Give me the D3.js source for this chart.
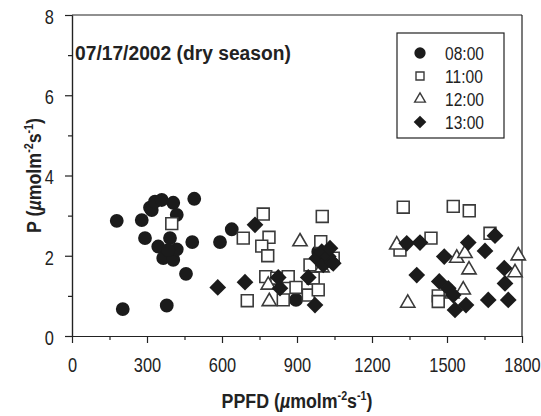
<!DOCTYPE html>
<html lang="en">
<head>
    <meta charset="UTF-8" />
    <title>PPFD vs P scatter</title>
    <script src="https://d3js.org/d3.v7.min.js"></script>
    <style>
        * { margin: 0; padding: 0; box-sizing: border-box; }
        body { background-color: #fff; }
        svg { display: block; }
        .axis text {
            font-family: "Liberation Sans", Arial, sans-serif;
            font-size: 20px;
            fill: #222;
        }
        .axis path, .axis line { stroke: #222; stroke-width: 1.2; }
        .lbl {
            font-family: "Liberation Sans", Arial, sans-serif;
            font-weight: bold;
            fill: #222;
        }
    </style>
</head>
<body>
<svg width="541" height="416"></svg>
<script>
    // Data: [PPFD, P]
    var t0800 = [[179,2.87],[203,0.67],[279,2.89],[292,2.44],[312,3.2],[319,3.14],[332,3.35],[359,3.39],
        [405,3.32],[419,3.02],[345,2.23],[392,2.44],[392,2.07],[365,1.94],[405,1.90],[419,2.16],[385,2.14],
        [456,1.55],[481,2.34],[489,3.42],[379,0.76],[592,2.34],[639,2.66],[896,0.9],[985,2.1]];

    var t1100 = [[399,2.80],[685,2.44],[765,3.04],[788,2.46],[759,2.24],[783,2.0],[775,1.48],[701,0.88],
        [845,0.9],[819,1.44],[865,1.48],[896,1.21],[945,1.02],[965,1.44],[985,1.15],[952,1.77],[995,2.35],
        [1001,2.98],[1045,1.94],[1312,2.14],[1325,3.21],[1436,2.44],[1465,1.0],[1465,0.86],[1525,3.23],
        [1589,3.12],[1672,2.56]];

    var t1200 = [[785,1.27],[789,0.86],[912,2.35],[1000,1.7],[1299,2.27],[1343,0.82],[1520,1.05],
        [1539,1.94],[1572,2.06],[1588,1.65],[1565,1.15],[1785,2.0],[1772,1.58]];

    var t1300 = [[583,1.21],[692,1.34],[732,2.77],[825,1.46],[832,1.19],[945,1.46],[972,0.77],[979,1.94],
        [999,2.1],[1005,1.77],[1025,1.98],[1032,2.19],[1039,1.85],[1045,1.81],[1339,2.31],[1379,1.52],
        [1392,2.33],[1469,1.36],[1489,1.98],[1505,1.19],[1525,1.02],[1532,0.65],[1576,0.77],[1585,2.33],
        [1652,2.12],[1665,0.9],[1692,2.5],[1729,1.69],[1732,1.31],[1745,0.9]];

    var seriesNames = ["08:00", "11:00", "12:00", "13:00"];
    var xTicks = [0, 300, 600, 900, 1200, 1500, 1800];
    var xMinor = [150, 450, 750, 1050, 1350, 1650];
    var yTicks = [0, 2, 4, 6, 8];
    var yMinor = [1, 3, 5, 7];
    var title = "07/17/2002 (dry season)";

    // plot area (note: "top" is a reserved window prop, so use pTop)
    var pLeft = 72, pRight = 522, pTop = 15, pBottom = 336;
    var narrow = 0.82; // squeeze Liberation Sans to look condensed

    var svg = d3.select("svg");

    var xScale = d3.scaleLinear().domain([0, 1800]).range([pLeft, pRight]);
    var yScale = d3.scaleLinear().domain([0, 8]).range([pBottom, pTop]);

    // marker styles per series
    var styles = [
        { type: d3.symbolCircle, size: 150, fill: "#1b1b1b", stroke: "none", rot: 0 },
        { type: d3.symbolSquare, size: 140, fill: "#fff", stroke: "#3a3a3a", rot: 0 },
        { type: d3.symbolTriangle, size: 88, fill: "#fff", stroke: "#3a3a3a", rot: 0 },
        { type: d3.symbolSquare, size: 140, fill: "#1b1b1b", stroke: "none", rot: 45 }
    ];
    var allSeries = [t0800, t1100, t1200, t1300];

    // frame (top and right)
    svg.append("line").attr("x1", pLeft).attr("x2", pRight).attr("y1", pTop).attr("y2", pTop)
        .attr("stroke", "#222").attr("stroke-width", 1.2);
    svg.append("line").attr("x1", pRight).attr("x2", pRight).attr("y1", pTop).attr("y2", pBottom)
        .attr("stroke", "#222").attr("stroke-width", 1.2);

    // points
    allSeries.forEach(function(data, i) {
        var st = styles[i];
        svg.append("g").selectAll("path")
            .data(data)
            .enter()
            .append("path")
            .attr("d", d3.symbol().type(st.type).size(st.size))
            .attr("transform", function(d) {
                return "translate(" + xScale(d[0]) + "," + yScale(d[1]) + ") rotate(" + st.rot + ")";
            })
            .attr("fill", st.fill)
            .attr("stroke", st.stroke)
            .attr("stroke-width", 1.6);
    });

    // axes
    var gx = svg.append("g").attr("class", "axis")
        .attr("transform", "translate(0," + pBottom + ")")
        .call(d3.axisBottom(xScale).tickValues(xTicks).tickSize(7).tickSizeOuter(0).tickPadding(15).tickFormat(d3.format("d")));
    svg.append("g").attr("class", "axis")
        .attr("transform", "translate(0," + pBottom + ")")
        .call(d3.axisBottom(xScale).tickValues(xMinor).tickSize(4).tickSizeOuter(0).tickFormat(""));
    var gy = svg.append("g").attr("class", "axis")
        .attr("transform", "translate(" + pLeft + ",0)")
        .call(d3.axisLeft(yScale).tickValues(yTicks).tickSize(7).tickSizeOuter(0).tickPadding(15));
    svg.append("g").attr("class", "axis")
        .attr("transform", "translate(" + pLeft + ",0)")
        .call(d3.axisLeft(yScale).tickValues(yMinor).tickSize(4).tickSizeOuter(0).tickFormat(""));
    gx.selectAll(".tick text").attr("transform", "scale(" + narrow + ",1)");
    gy.selectAll(".tick text").attr("transform", "scale(" + narrow + ",1)").attr("dy", "0.42em");

    // title, squeezed to the width it has in the picture
    var tt = svg.append("text").attr("class", "lbl")
        .attr("font-size", "21px")
        .text(title);
    var titleScale = Math.min(1, 216 / tt.node().getComputedTextLength());
    tt.attr("transform", "translate(75,60) scale(" + titleScale + ",1)");

    // legend
    var lg = svg.append("g");
    lg.append("rect").attr("x", 397).attr("y", 33).attr("width", 107).attr("height", 105)
        .attr("fill", "#fff").attr("stroke", "#222").attr("stroke-width", 1.2);
    var legendSizes = [100, 64, 50, 80];
    seriesNames.forEach(function(name, i) {
        var st = styles[i];
        var cy = 53 + i * 23;
        lg.append("path")
            .attr("d", d3.symbol().type(st.type).size(legendSizes[i]))
            .attr("transform", "translate(420," + cy + ") rotate(" + st.rot + ")")
            .attr("fill", st.fill).attr("stroke", st.stroke).attr("stroke-width", 1.4);
        lg.append("text")
            .attr("transform", "translate(445," + (cy + 7) + ") scale(" + narrow + ",1)")
            .attr("font-family", "'Liberation Sans', Arial, sans-serif")
            .attr("font-size", "19px").attr("fill", "#222")
            .text(name);
    });

    // axis labels
    function unitLabel(sel, head) {
        sel.append("tspan").text(head + " (");
        sel.append("tspan").attr("font-style", "italic").text("\u00b5");
        sel.append("tspan").text("molm");
        sel.append("tspan").attr("font-size", "12px").attr("dy", -8).text("-2");
        sel.append("tspan").attr("dy", 8).text("s");
        sel.append("tspan").attr("font-size", "12px").attr("dy", -8).text("-1");
        sel.append("tspan").attr("dy", 8).text(")");
    }

    var xl = svg.append("text").attr("class", "lbl")
        .attr("text-anchor", "middle").attr("font-size", "20px");
    unitLabel(xl, "PPFD");
    var lblScale = Math.min(1, 151 / xl.node().getComputedTextLength());
    xl.attr("transform", "translate(" + (pLeft + pRight) / 2 + ",408) scale(" + lblScale + ",1)");

    var yl = svg.append("text").attr("class", "lbl")
        .attr("text-anchor", "middle").attr("font-size", "20px")
        .attr("transform", "translate(41," + (pTop + pBottom) / 2 + ") rotate(-90) scale(" + lblScale + ",1)");
    unitLabel(yl, "P");
</script>
</body>
</html>
